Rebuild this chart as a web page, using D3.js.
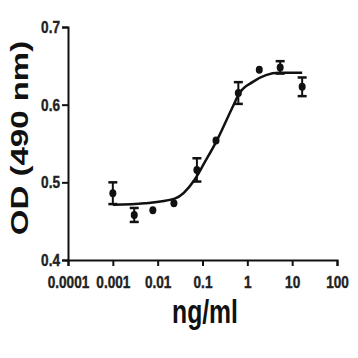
<!DOCTYPE html>
<html><head><meta charset="utf-8">
<script src="https://cdn.jsdelivr.net/npm/d3@7"></script>
<style>body{margin:0;background:#fff}svg{display:block}</style>
</head><body>
<svg id="c" width="358" height="358"></svg>
<script>
const conc = [0.001, 0.003, 0.0078, 0.023, 0.075, 0.2, 0.63, 1.85, 5.4, 16.7];
const od   = [0.486, 0.458, 0.464, 0.473, 0.516, 0.554, 0.615, 0.645, 0.648, 0.623];
const sem  = [0.014, 0.009, 0.003, 0.003, 0.015, 0.002, 0.014, 0.002, 0.008, 0.012];
const fitConc = [0.001, 0.0051, 0.024, 0.066, 0.11, 0.21, 0.47, 0.67, 1.3, 2.6, 5.1, 16.7];
const fitOD   = [0.471, 0.473, 0.479, 0.503, 0.525, 0.554, 0.597, 0.615, 0.629, 0.638, 0.641, 0.641];
const xTicks = [0.0001, 0.001, 0.01, 0.1, 1, 10, 100];
const xTickLabels = ["0.0001", "0.001", "0.01", "0.1", "1", "10", "100"];
const yTicks = [0.4, 0.5, 0.6, 0.7];
const yTickLabels = ["0.4", "0.5", "0.6", "0.7"];
const xTitle = "ng/ml";
const yTitle = "OD (490 nm)";

const svg = d3.select("#c");
const x = d3.scaleLog().domain([0.0001, 100]).range([68, 337]);
const y = d3.scaleLinear().domain([0.4, 0.7]).range([260, 27]);
const font = "'Liberation Sans', Arial, sans-serif";
const sx = 0.8;

// axes
const xAxis = svg.append("g").attr("transform", `translate(0,${y(0.4)})`)
  .call(d3.axisBottom(x).tickValues(xTicks).tickFormat((d, i) => xTickLabels[i]).tickSize(6).tickPadding(10));
const yAxis = svg.append("g").attr("transform", `translate(${x(0.0001)},0)`)
  .call(d3.axisLeft(y).tickValues(yTicks).tickFormat((d, i) => yTickLabels[i]).tickSize(6).tickPadding(2));
[xAxis, yAxis].forEach(g => {
  g.select(".domain").attr("stroke", "#111").attr("stroke-width", 2);
  g.selectAll(".tick line").attr("stroke", "#111").attr("stroke-width", 2);
  g.selectAll(".tick text").attr("fill", "#222").attr("stroke", "#222").attr("stroke-width", 0.4)
    .attr("font-family", font).attr("font-weight", "bold").attr("font-size", 17);
});
xAxis.selectAll(".tick text").attr("transform", `scale(${sx},1)`);
yAxis.selectAll(".tick text").attr("transform", `scale(${sx},1)`).attr("x", -8 / sx);

// fit curve
const line = d3.line().x(d => x(d[0])).y(d => y(d[1])).curve(d3.curveMonotoneX);
svg.append("path").datum(fitConc.map((c, i) => [c, fitOD[i]]))
  .attr("d", line).attr("fill", "none").attr("stroke", "#111").attr("stroke-width", 2.5);

// error bars
const pts = conc.map((c, i) => ({c, v: od[i], e: sem[i]}));
const eb = svg.append("g").attr("stroke", "#111").attr("stroke-width", 2);
pts.filter(p => p.e > 0.004).forEach(p => {
  eb.append("line").attr("x1", x(p.c)).attr("x2", x(p.c)).attr("y1", y(p.v - p.e)).attr("y2", y(p.v + p.e));
  [p.v - p.e, p.v + p.e].forEach(v => eb.append("line")
    .attr("x1", x(p.c) - 4.5).attr("x2", x(p.c) + 4.5).attr("y1", y(v)).attr("y2", y(v)).attr("stroke-width", 2.5));
});

// points
svg.append("g").selectAll("ellipse").data(pts).join("ellipse")
  .attr("cx", d => x(d.c)).attr("cy", d => y(d.v)).attr("rx", 3.5).attr("ry", 4).attr("fill", "#111");

// titles
svg.append("text").attr("transform", `translate(205,323) scale(0.75,1)`)
  .attr("text-anchor", "middle").attr("font-family", font).attr("font-weight", "bold")
  .attr("font-size", 33).attr("fill", "#111").text(xTitle);
svg.append("text").attr("transform", `translate(28,138) scale(0.75,1) rotate(-90)`)
  .attr("text-anchor", "middle").attr("font-family", font).attr("font-weight", "bold")
  .attr("font-size", 33).attr("fill", "#111").text(yTitle);
</script>
</body></html>
